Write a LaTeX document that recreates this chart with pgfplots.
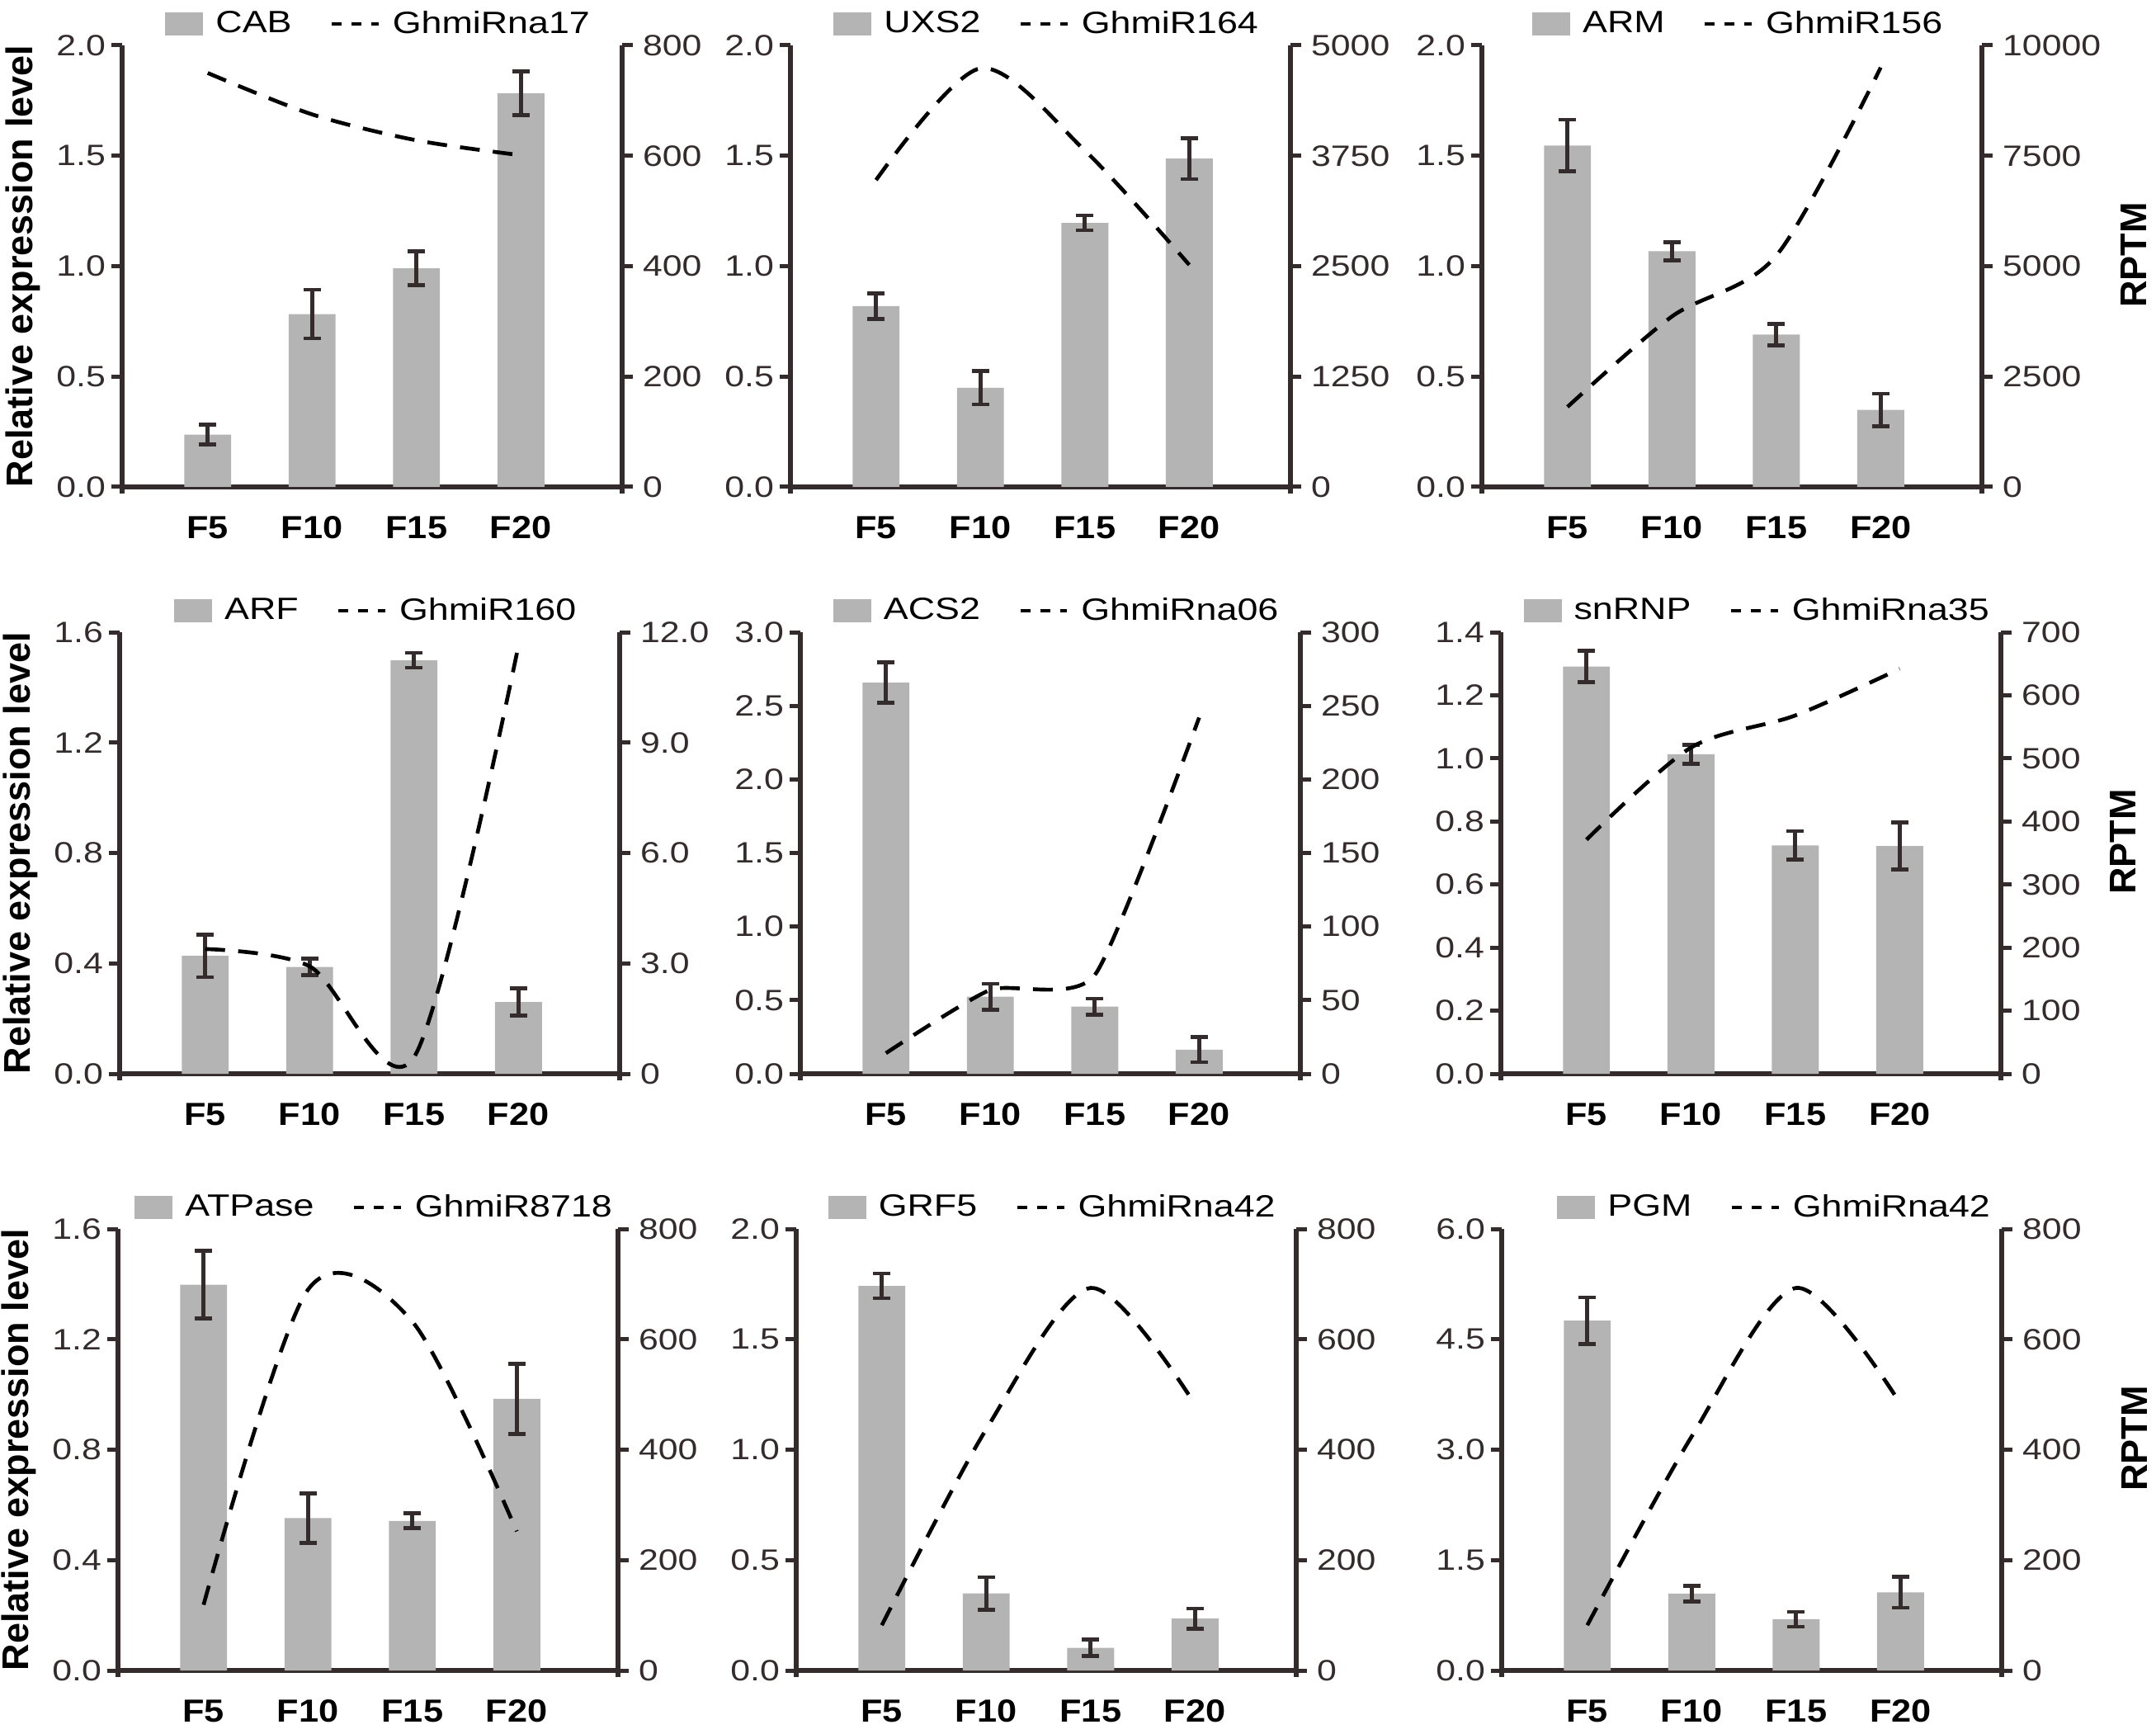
\documentclass[border=0pt]{standalone}
\usepackage{fontspec}
\setmainfont{Liberation Sans}[FakeStretch=1.2]
\newfontfamily\xlfont{Liberation Sans}[FakeStretch=1.12]
\newfontfamily\ylfont{Liberation Sans}
\usepackage{pgfplots}
\pgfplotsset{compat=1.18}
\definecolor{barg}{RGB}{180,180,180}
\definecolor{axc}{RGB}{52,44,44}
\pgfplotsset{
  common/.style={width=181.8pt,height=160.5pt,scale only axis,xmin=-0.82,xmax=3.97,ymin=0,
    axis line style={-,line width=1.6pt,axc},
    y axis line style={shorten <=-2.4pt},
    tick align=outside, major tick length=4pt,
    tick style={axc,line width=1.5pt},
    scaled y ticks=false,
    yticklabel style={font=\fontsize{10.7}{12}\selectfont, text=axc},
  },
  barax/.style={common, axis x line*=bottom, axis y line*=left,
    xtick={0,1,2,3}, xticklabels={F5,F10,F15,F20},
    x tick style={draw=none},
    xticklabel style={font=\xlfont\bfseries\fontsize{11.6}{13}\selectfont, yshift=-3.2pt},
    yticklabel style={xshift=1.5pt},
    legend style={at={(axis description cs:0.5,1)},anchor=center,yshift=7.8pt,xshift=3pt,draw=none,fill=none,
      font=\fontsize{11.2}{13}\selectfont,
      /tikz/every odd column/.append style={column sep=2.5pt},
      /tikz/every even column/.append style={column sep=12pt}},
    legend columns=-1,
    ylabel style={font=\ylfont\bfseries\fontsize{13.5}{15}\selectfont, at={(axis description cs:0,0.5)}, anchor=center, yshift=36pt},
  },
  lineax/.style={common, axis x line=none, axis y line*=right,
    ylabel style={font=\ylfont\bfseries\fontsize{13.5}{15}\selectfont, at={(axis description cs:1,0.5)}, anchor=center, xshift=4pt},
  },
  barplot/.style={ybar, bar width=0.45, fill=barg, draw=none,
    legend image code/.code={\fill[barg] (0pt,-4.2pt) rectangle (13.8pt,4.2pt);},
    error bars/y dir=both, error bars/y explicit,
    error bars/error bar style={line width=1.4pt, draw=axc, solid},
    error bars/error mark options={rotate=90, line width=1.4pt, mark size=3.2pt, draw=axc, solid}},
  dline/.style={black, line width=1.4pt, dash pattern=on 7.2pt off 4.8pt, smooth, mark=none},
  dleg/.style={legend image code/.code={\draw[black,line width=1.2pt,dash pattern=on 3.6pt off 3.6pt] (0pt,0pt)--(17pt,0pt);}},
}
\begin{document}
\begin{tikzpicture}
\useasboundingbox (0,0) rectangle (783.9pt,630pt);
% ---------- Panel 1 ----------
\begin{axis}[barax, at={(44.4pt,453pt)}, anchor=south west, ymax=2.0,
  ytick={0,0.5,1,1.5,2}, yticklabels={0.0,0.5,1.0,1.5,2.0}, ylabel={Relative expression level}]
\addplot[barplot] coordinates {(0,0.237) +- (0,0.045) (1,0.783) +- (0,0.11) (2,0.99) +- (0,0.077) (3,1.783) +- (0,0.1)};
\addlegendentry{CAB}
\addlegendimage{dleg}\addlegendentry{GhmiRna17}
\end{axis}
\begin{axis}[lineax, at={(44.4pt,453pt)}, anchor=south west, ymax=800,
  ytick={0,200,400,600,800}, yticklabels={0,200,400,600,800}]
\addplot[dline] coordinates {(0,750) (1,675) (2,628) (3,601)};
\end{axis}
% ---------- Panel 2 ----------
\begin{axis}[barax, at={(287.4pt,453pt)}, anchor=south west, ymax=2.0,
  ytick={0,0.5,1,1.5,2}, yticklabels={0.0,0.5,1.0,1.5,2.0}]
\addplot[barplot] coordinates {(0,0.819) +- (0,0.058) (1,0.449) +- (0,0.075) (2,1.196) +- (0,0.034) (3,1.487) +- (0,0.093)};
\addlegendentry{UXS2}
\addlegendimage{dleg}\addlegendentry{GhmiR164}
\end{axis}
\begin{axis}[lineax, at={(287.4pt,453pt)}, anchor=south west, ymax=5000,
  ytick={0,1250,2500,3750,5000}, yticklabels={0,1250,2500,3750,5000}]
\addplot[dline] coordinates {(0,3475) (1,4740) (2,3810) (3,2515)};
\end{axis}
% ---------- Panel 3 ----------
\begin{axis}[barax, at={(538.8pt,453pt)}, anchor=south west, ymax=2.0,
  ytick={0,0.5,1,1.5,2}, yticklabels={0.0,0.5,1.0,1.5,2.0}]
\addplot[barplot] coordinates {(0,1.546) +- (0,0.117) (1,1.068) +- (0,0.041) (2,0.69) +- (0,0.048) (3,0.349) +- (0,0.074)};
\addlegendentry{ARM}
\addlegendimage{dleg}\addlegendentry{GhmiR156}
\end{axis}
\begin{axis}[lineax, at={(538.8pt,453pt)}, anchor=south west, ymax=10000,
  ytick={0,2500,5000,7500,10000}, yticklabels={0,2500,5000,7500,10000},
  ylabel={RPTM}, ylabel style={yshift=-55.2pt}]
\addplot[dline] coordinates {(0,1813) (1,3860) (2,5238) (3,9499)};
\end{axis}
% ---------- Panel 4 ----------
\begin{axis}[barax, at={(43.5pt,239.7pt)}, anchor=south west, ymax=1.6,
  ytick={0,0.4,0.8,1.2,1.6}, yticklabels={0.0,0.4,0.8,1.2,1.6}, ylabel={Relative expression level}]
\addplot[barplot] coordinates {(0,0.427) +- (0,0.077) (1,0.387) +- (0,0.03) (2,1.498) +- (0,0.027) (3,0.26) +- (0,0.05)};
\addlegendentry{ARF}
\addlegendimage{dleg}\addlegendentry{GhmiR160}
\end{axis}
\begin{axis}[lineax, at={(43.5pt,239.7pt)}, anchor=south west, ymax=12,
  ytick={0,3,6,9,12}, yticklabels={0,3.0,6.0,9.0,12.0}]
\addplot[dline] coordinates {(0,3.39) (1,2.92) (2,0.45) (3,11.63)};
\end{axis}
% ---------- Panel 5 ----------
\begin{axis}[barax, at={(291pt,239.7pt)}, anchor=south west, ymax=3.0,
  ytick={0,0.5,1,1.5,2,2.5,3}, yticklabels={0.0,0.5,1.0,1.5,2.0,2.5,3.0}]
\addplot[barplot] coordinates {(0,2.657) +- (0,0.137) (1,0.524) +- (0,0.088) (2,0.456) +- (0,0.054) (3,0.163) +- (0,0.085)};
\addlegendentry{ACS2}
\addlegendimage{dleg}\addlegendentry{GhmiRna06}
\end{axis}
\begin{axis}[lineax, at={(291pt,239.7pt)}, anchor=south west, ymax=300,
  ytick={0,50,100,150,200,250,300}, yticklabels={0,50,100,150,200,250,300}]
\addplot[dline, tension=0.35] coordinates {(0,14) (1,57) (2,67) (3,242)};
\end{axis}
% ---------- Panel 6 ----------
\begin{axis}[barax, at={(545.7pt,239.7pt)}, anchor=south west, ymax=1.4,
  ytick={0,0.2,0.4,0.6,0.8,1.0,1.2,1.4}, yticklabels={0.0,0.2,0.4,0.6,0.8,1.0,1.2,1.4}]
\addplot[barplot] coordinates {(0,1.291) +- (0,0.05) (1,1.013) +- (0,0.03) (2,0.724) +- (0,0.045) (3,0.722) +- (0,0.075)};
\addlegendentry{snRNP}
\addlegendimage{dleg}\addlegendentry{GhmiRna35}
\end{axis}
\begin{axis}[lineax, at={(545.7pt,239.7pt)}, anchor=south west, ymax=700,
  ytick={0,100,200,300,400,500,600,700}, yticklabels={0,100,200,300,400,500,600,700},
  ylabel={RPTM}, ylabel style={yshift=-44.4pt}]
\addplot[dline] coordinates {(0,371) (1,517) (2,568) (3,642)};
\end{axis}
% ---------- Panel 7 ----------
\begin{axis}[barax, at={(42.9pt,22.8pt)}, anchor=south west, ymax=1.6,
  ytick={0,0.4,0.8,1.2,1.6}, yticklabels={0.0,0.4,0.8,1.2,1.6}, ylabel={Relative expression level}]
\addplot[barplot] coordinates {(0,1.398) +- (0,0.122) (1,0.552) +- (0,0.09) (2,0.542) +- (0,0.027) (3,0.984) +- (0,0.128)};
\addlegendentry{ATPase}
\addlegendimage{dleg}\addlegendentry{GhmiR8718}
\end{axis}
\begin{axis}[lineax, at={(42.9pt,22.8pt)}, anchor=south west, ymax=800,
  ytick={0,200,400,600,800}, yticklabels={0,200,400,600,800}]
\addplot[dline] coordinates {(0,119) (1,690) (2,632) (3,252)};
\end{axis}
% ---------- Panel 8 ----------
\begin{axis}[barax, at={(289.5pt,22.8pt)}, anchor=south west, ymax=2.0,
  ytick={0,0.5,1,1.5,2}, yticklabels={0.0,0.5,1.0,1.5,2.0}]
\addplot[barplot] coordinates {(0,1.742) +- (0,0.056) (1,0.349) +- (0,0.074) (2,0.102) +- (0,0.037) (3,0.235) +- (0,0.045)};
\addlegendentry{GRF5}
\addlegendimage{dleg}\addlegendentry{GhmiRna42}
\end{axis}
\begin{axis}[lineax, at={(289.5pt,22.8pt)}, anchor=south west, ymax=800,
  ytick={0,200,400,600,800}, yticklabels={0,200,400,600,800}]
\addplot[dline] coordinates {(0,82) (1,437) (2,693) (3,482)};
\end{axis}
% ---------- Panel 9 ----------
\begin{axis}[barax, at={(546pt,22.8pt)}, anchor=south west, ymax=6.0,
  ytick={0,1.5,3,4.5,6}, yticklabels={0.0,1.5,3.0,4.5,6.0},
  legend style={xshift=6pt}]
\addplot[barplot] coordinates {(0,4.754) +- (0,0.316) (1,1.046) +- (0,0.107) (2,0.696) +- (0,0.102) (3,1.061) +- (0,0.21)};
\addlegendentry{PGM}
\addlegendimage{dleg}\addlegendentry{GhmiRna42}
\end{axis}
\begin{axis}[lineax, at={(546pt,22.8pt)}, anchor=south west, ymax=800,
  ytick={0,200,400,600,800}, yticklabels={0,200,400,600,800},
  ylabel={RPTM}, ylabel style={yshift=-48.3pt}]
\addplot[dline] coordinates {(0,82) (1,424) (2,693) (3,483)};
\end{axis}
\end{tikzpicture}
\end{document}
